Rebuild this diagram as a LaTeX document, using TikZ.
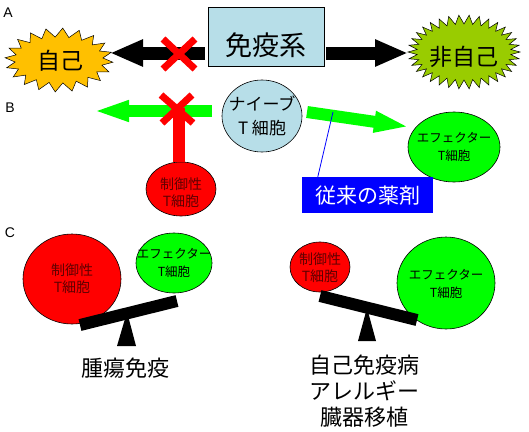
\documentclass[tikz,border=0pt]{standalone}
\usepackage{fontspec}
\setmainfont{Liberation Sans}
\newfontfamily\jp{Noto Sans CJK JP}
\usetikzlibrary{arrows.meta,shapes.geometric}
\definecolor{boxblue}{HTML}{B7DEE8}
\definecolor{selfc}{HTML}{FFC000}
\definecolor{nonself}{HTML}{99CC00}
\definecolor{brightgreen}{HTML}{00FF00}
\definecolor{treg}{HTML}{FF0000}
\definecolor{tregtext}{HTML}{600000}
\definecolor{drugblue}{HTML}{0000FF}
\begin{document}
\begin{tikzpicture}[x=1pt,y=-1pt,
  cellshape/.style={ellipse, draw=black, line width=0.6pt, inner sep=0pt},
  regtext/.style={font=\jp\fontsize{14}{17}\selectfont, align=center, inner sep=0pt, text=tregtext},
  efftext/.style={font=\jp\fontsize{12.5}{18}\selectfont, align=center, inner sep=0pt},
  bigtext/.style={font=\jp\fontsize{22}{26}\selectfont, align=center, inner sep=0pt},
  letter/.style={font=\fontsize{14}{14}\selectfont, inner sep=0pt},
  bigarrow/.style={line width=13pt, -{Triangle[length=33pt,width=25pt]}},
  greenarrow/.style={draw=brightgreen, line width=12pt, -{Triangle[length=36pt,width=19pt]}},
  crossmark/.style={draw=treg, line width=7pt},
  seesaw/.style={line width=12pt, draw=black},
]
\useasboundingbox (0,0) rectangle (529,431);

% ---------- A ----------
\node[letter] (labA) at (8,13) {A};
\node[draw=black, line width=0.8pt, fill=boxblue, minimum width=116pt, minimum height=59pt, inner sep=0pt] (immune) at (266,36.5) {};
\node[font=\jp\fontsize{27}{27}\selectfont, inner sep=0pt] (immunetext) at (266,45) {免疫系};

\filldraw[fill=selfc, draw=black, line width=0.5pt]
  plot[samples at={0,1,...,39}, variable=\t]
  ({59+(54-10*mod(\t,2))*cos(\t*9+4)}, {60+(32-9*mod(\t,2))*sin(\t*9+4)}) -- cycle;
\node[font=\jp\fontsize{23}{23}\selectfont, inner sep=0pt] (self) at (60,61) {自己};

\filldraw[fill=nonself, draw=black, line width=0.5pt]
  plot[samples at={0,1,...,67}, variable=\t]
  ({464+(56-9*mod(\t,2))*cos(\t*5.294118)}, {52+(37-9*mod(\t,2))*sin(\t*5.294118)}) -- cycle;
\node[font=\jp\fontsize{23}{23}\selectfont, inner sep=0pt] (nonselfn) at (464,57) {非自己};

\coordinate (aLs) at (205,53);
\coordinate (aLt) at (110,53);
\coordinate (aRs) at (326,53);
\coordinate (aRt) at (408,53);
\draw[bigarrow] (aLs) -- (aLt);
\draw[bigarrow] (aRs) -- (aRt);
\draw[crossmark] (163,39) -- (195,69) (195,39) -- (163,69);

% ---------- B ----------
\node[letter] (labB) at (10,108) {B};
\node[cellshape, fill=boxblue, minimum width=80pt, minimum height=72pt] (naive) at (262,116) {};
\node[font=\jp\fontsize{17}{24}\selectfont, align=center, inner sep=0pt] (naivetext) at (262,116) {ナイーブ\\T 細胞};

\coordinate (gLs) at (212,111);
\coordinate (gLt) at (93,111);
\draw[greenarrow] (gLs) -- (gLt);

\node[cellshape, fill=treg, minimum width=70pt, minimum height=54pt] (treg1) at (181,189) {};
\node[regtext] (treg1text) at (181,193) {制御性\\T細胞};
\coordinate (barTop) at (179,108);
\draw[treg, line width=12pt] ([xshift=-2pt]treg1.north) -- (barTop);
\draw[crossmark] (161,95) -- (193,123) (192,95) -- (162,123);

\node[cellshape, fill=brightgreen, minimum width=92pt, minimum height=70pt] (eff1) at (454,147) {};
\node[efftext] (eff1text) at (454,147) {エフェクター\\T細胞};
\coordinate (gRs) at (307,112);
\coordinate (gRt) at (410,127);
\draw[greenarrow] (gRs) -- (gRt);

\node[fill=drugblue, minimum width=131pt, minimum height=36pt, inner sep=0pt] (drug) at (367.5,195) {};
\node[font=\jp\fontsize{21}{21}\selectfont, text=white, inner sep=0pt] (drugtext) at (368,196) {従来の薬剤};
\coordinate (drugpt) at (333,112);
\draw[drugblue, line width=0.8pt] (drugpt) -- ([xshift=16pt]drug.north west);

% ---------- C ----------
\node[letter] (labC) at (10,233) {C};
\node[cellshape, fill=treg, minimum width=98pt, minimum height=90pt] (treg2) at (72,279) {};
\node[regtext] (treg2text) at (72,279) {制御性\\T細胞};
\node[cellshape, fill=brightgreen, minimum width=76pt, minimum height=60pt] (eff2) at (174,263) {};
\node[efftext] (eff2text) at (174,263) {エフェクター\\T細胞};
\fill[black] (127,312) -- (136,346) -- (117,346) -- cycle;
\draw[seesaw] (80,325) -- (177,301);
\node[bigtext] (tumor) at (125,368) {腫瘍免疫};

\node[cellshape, fill=treg, minimum width=60pt, minimum height=50pt] (treg3) at (320,267) {};
\node[regtext] (treg3text) at (320,268) {制御性\\T細胞};
\node[cellshape, fill=brightgreen, minimum width=98pt, minimum height=92pt] (eff3) at (446,283) {};
\node[efftext] (eff3text) at (446,284) {エフェクター\\T細胞};
\fill[black] (367,308) -- (376,341) -- (358,341) -- cycle;
\draw[seesaw] (320,296) -- (417,320);
\node[bigtext] (auto) at (364,391) {自己免疫病\\アレルギー\\臓器移植};
\end{tikzpicture}
\end{document}
